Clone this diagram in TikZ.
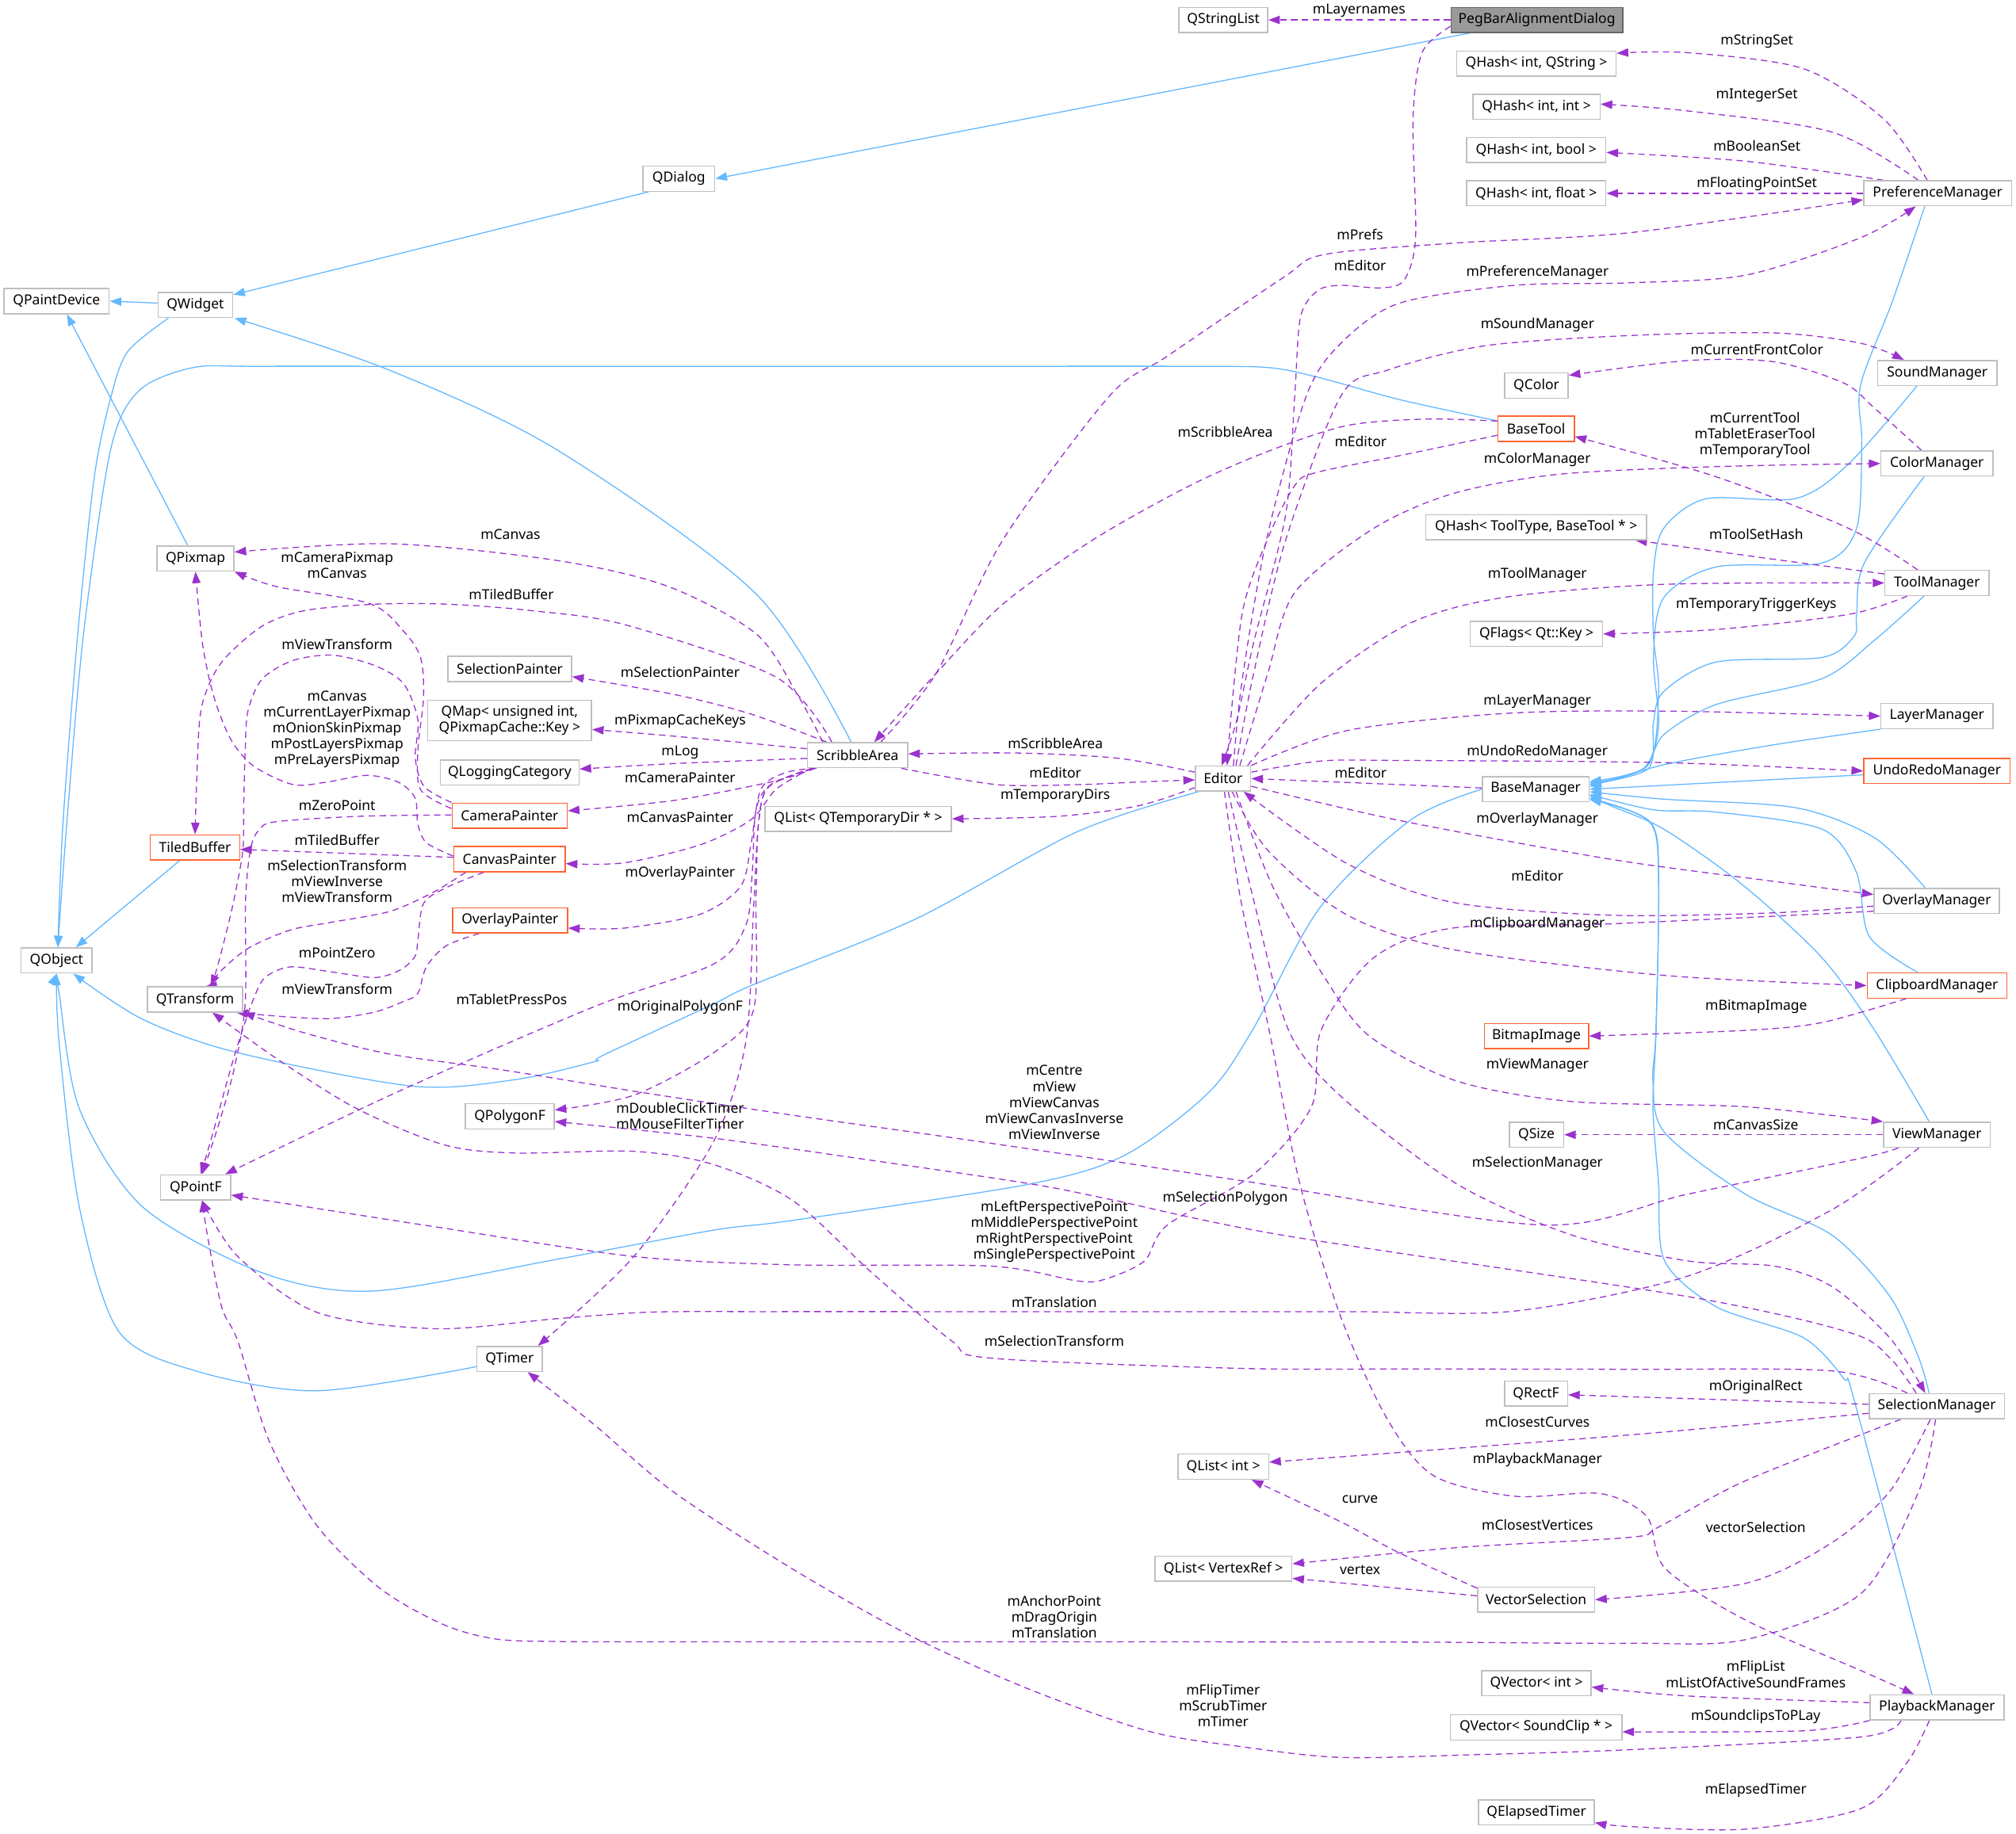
\documentclass[tikz,border=0pt]{standalone}
\usepackage{fontspec}
\setmainfont{Noto Sans}
\usetikzlibrary{arrows.meta,backgrounds}
\definecolor{inhblue}{RGB}{99,184,255}
\definecolor{usepurple}{RGB}{154,50,205}
\definecolor{boxgray}{RGB}{191,191,191}
\definecolor{orangeb}{RGB}{255,100,50}
\definecolor{pegfill}{RGB}{153,153,153}
\definecolor{pegdraw}{RGB}{102,102,102}
\newcommand\fsz{\fontsize{10.8}{12.4}\selectfont}
\begin{document}
\begin{tikzpicture}[x=1pt,y=-1pt,
  nbox/.style={draw=boxgray, fill=white, line width=0.9pt, inner sep=0pt, minimum height=19.5pt, font=\fsz, align=center},
  obox/.style={nbox, draw=orangeb},
  pbox/.style={nbox, draw=pegdraw, fill=pegfill},
  iedge/.style={draw=inhblue, line width=0.8pt, -{Triangle[length=9pt,width=6.5pt]}},
  uedge/.style={draw=usepurple, line width=0.8pt, dash pattern=on 5pt off 3.5pt, -{Triangle[length=9pt,width=6.5pt]}},
  lbl/.style={font=\fsz, inner sep=0pt, align=center}]
\useasboundingbox (0,0) rectangle (1568,1426.2);
% nodes
\node[pbox,minimum width=133.5pt] (PegBar) at (1195.3,15.5) {PegBarAlignmentDialog};
\node[nbox,minimum width=69pt] (QStringList) at (951.5,15.5) {QStringList};
\node[nbox,minimum width=124pt] (QHashStr) at (1195,49.4) {QHash< int, QString >};
\node[nbox,minimum width=99pt] (QHashInt) at (1195,83) {QHash< int, int >};
\node[nbox,minimum width=108.4pt] (QHashBool) at (1194.8,116.6) {QHash< int, bool >};
\node[nbox,minimum width=108.4pt] (QHashFloat) at (1194.8,150.4) {QHash< int, float >};
\node[nbox,minimum width=115pt] (PrefMgr) at (1507,150.4) {PreferenceManager};
\node[nbox,minimum width=56pt] (QDialog) at (528,139) {QDialog};
\node[nbox,minimum width=81.8pt] (QPaintDevice) at (44,234.3) {QPaintDevice};
\node[nbox,minimum width=58pt] (QWidget) at (152,237.3) {QWidget};
\node[nbox,minimum width=93pt] (SoundMgr) at (1506.8,290.2) {SoundManager};
\node[nbox,minimum width=49.4pt] (QColor) at (1195,300) {QColor};
\node[obox,minimum width=59.4pt] (BaseTool) at (1194.7,333.6) {BaseTool};
\node[nbox,minimum width=87pt] (ColorMgr) at (1506.5,360.6) {ColorManager};
\node[nbox,minimum width=171.5pt] (QHashTool) at (1194.8,410.1) {QHash< ToolType, BaseTool * >};
\node[nbox,minimum width=81pt] (ToolMgr) at (1506.5,453.5) {ToolManager};
\node[nbox,minimum width=103pt] (QFlags) at (1195,493.2) {QFlags< Qt::Key >};
\node[nbox,minimum width=87pt] (LayerMgr) at (1506.5,557.1) {LayerManager};
\node[obox,minimum width=114pt] (UndoRedo) at (1506.5,599.8) {UndoRedoManager};
\node[nbox,minimum width=43pt] (Editor) at (951.3,605.7) {Editor};
\node[nbox,minimum width=83pt] (BaseMgr) at (1194.4,614) {BaseManager};
\node[nbox,minimum width=78pt] (ScribbleArea) at (667,587.5) {ScribbleArea};
\node[nbox,minimum width=145pt] (QListTemp) at (667.5,637) {QList< QTemporaryDir * >};
\node[nbox,minimum width=96pt] (SelectionPainter) at (396.5,520.4) {SelectionPainter};
\node[nbox,minimum width=127.3pt,minimum height=31.4pt] (QMap) at (396.4,560.5) {QMap< unsigned int,\\ QPixmapCache::Key >};
\node[nbox,minimum width=107.8pt] (QLogging) at (396.4,601.1) {QLoggingCategory};
\node[obox,minimum width=89.6pt] (CameraPainter) at (396.4,634.5) {CameraPainter};
\node[obox,minimum width=69.4pt] (TiledBuffer) at (151.7,659.3) {TiledBuffer};
\node[obox,minimum width=86.6pt] (CanvasPainter) at (396.3,668.4) {CanvasPainter};
\node[obox,minimum width=89.5pt] (OverlayPainter) at (396.7,716) {OverlayPainter};
\node[nbox,minimum width=60pt] (QPixmap) at (152,434.5) {QPixmap};
\node[nbox,minimum width=55pt] (QObject) at (44,747.2) {QObject};
\node[nbox,minimum width=74pt] (QTransform) at (151.7,777.5) {QTransform};
\node[nbox,minimum width=69pt] (QPolygonF) at (396.5,868.5) {QPolygonF};
\node[nbox,minimum width=54.4pt] (QPointF) at (152.2,923.7) {QPointF};
\node[nbox,minimum width=50.8pt] (QTimer) at (396.4,1057.2) {QTimer};
\node[nbox,minimum width=97.4pt] (OverlayMgr) at (1506.3,700.9) {OverlayManager};
\node[obox,minimum width=108.7pt] (ClipboardMgr) at (1506.6,766.7) {ClipboardManager};
\node[obox,minimum width=81pt] (BitmapImage) at (1195,806) {BitmapImage};
\node[nbox,minimum width=83pt] (ViewMgr) at (1506.5,882.8) {ViewManager};
\node[nbox,minimum width=42.2pt] (QSize) at (1195,882.8) {QSize};
\node[nbox,minimum width=105pt] (SelectionMgr) at (1506.4,1094) {SelectionManager};
\node[nbox,minimum width=49pt] (QRectF) at (1194.7,1084.1) {QRectF};
\node[nbox,minimum width=70.5pt] (QListInt) at (951.5,1141) {QList< int >};
\node[nbox,minimum width=106.5pt] (QListVertex) at (951.5,1220.4) {QList< VertexRef >};
\node[nbox,minimum width=91pt] (VectorSelection) at (1194.7,1244.5) {VectorSelection};
\node[nbox,minimum width=104pt] (PlaybackMgr) at (1506.6,1328.2) {PlaybackManager};
\node[nbox,minimum width=85pt] (QVectorInt) at (1195,1309.5) {QVector< int >};
\node[nbox,minimum width=133.4pt] (QVectorSound) at (1194.7,1343.8) {QVector< SoundClip * >};
\node[nbox,minimum width=90pt] (QElapsedTimer) at (1195,1409.9) {QElapsedTimer};
% labels
\node[lbl] (l1) at (1057,8) {mLayernames};
\node[lbl] (l2) at (1057.8,206.5) {mEditor};
\node[lbl] (l3) at (1366.5,31.9) {mStringSet};
\node[lbl] (l4) at (1366.5,74) {mIntegerSet};
\node[lbl] (l5) at (1366.5,113.6) {mBooleanSet};
\node[lbl] (l6) at (1366.5,143.2) {mFloatingPointSet};
\node[lbl] (l7) at (1057.8,182.5) {mPrefs};
\node[lbl] (l8) at (1195.8,212) {mPreferenceManager};
\node[lbl] (l9) at (1195.8,253) {mSoundManager};
\node[lbl] (l10) at (1366.5,272) {mCurrentFrontColor};
\node[lbl] (l11) at (953,336) {mScribbleArea};
\node[lbl] (l12) at (1058.3,343.3) {mEditor};
\node[lbl] (l13) at (1195.7,357.7) {mColorManager};
\node[lbl] (l14) at (1365,338.7) {mCurrentTool\\mTabletEraserTool\\mTemporaryTool};
\node[lbl] (l15) at (1366,415.5) {mToolSetHash};
\node[lbl] (l16) at (1195.7,447.3) {mToolManager};
\node[lbl] (l17) at (1366,470.3) {mTemporaryTriggerKeys};
\node[lbl] (l18) at (1195.7,546) {mLayerManager};
\node[lbl] (l19) at (1195.7,585) {mUndoRedoManager};
\node[lbl] (l20) at (1058.3,601) {mEditor};
\node[lbl] (l21) at (1195.7,637.5) {mOverlayManager};
\node[lbl] (l22) at (1195.7,681) {mEditor};
\node[lbl] (l23) at (1195.7,718.6) {mClipboardManager};
\node[lbl] (l24) at (820,958.3) {mLeftPerspectivePoint\\mMiddlePerspectivePoint\\mRightPerspectivePoint\\mSinglePerspectivePoint};
\node[lbl] (l25) at (1366,783.2) {mBitmapImage};
\node[lbl] (l26) at (1195.8,828.7) {mViewManager};
\node[lbl] (l27) at (1365.6,875.3) {mCanvasSize};
\node[lbl] (l28) at (1195.8,905) {mSelectionManager};
\node[lbl] (l29) at (1195.8,1136) {mPlaybackManager};
\node[lbl] (l30) at (1365.6,1079) {mOriginalRect};
\node[lbl] (l31) at (1195.8,1106.3) {mClosestCurves};
\node[lbl] (l32) at (1195.8,1186) {mClosestVertices};
\node[lbl] (l33) at (1365.6,1188.3) {vectorSelection};
\node[lbl] (l34) at (1057.8,1166.4) {curve};
\node[lbl] (l35) at (1057.8,1221.4) {vertex};
\node[lbl] (l36) at (820,1257.8) {mAnchorPoint\\mDragOrigin\\mTranslation};
\node[lbl] (l37) at (820,1043.2) {mSelectionTransform};
\node[lbl] (l38) at (953,932.2) {mSelectionPolygon};
\node[lbl] (l39) at (820,857.6) {mCentre\\mView\\mViewCanvas\\mViewCanvasInverse\\mViewInverse};
\node[lbl] (l40) at (820,1013.3) {mTranslation};
\node[lbl] (l41) at (1365.6,1302.5) {mFlipList\\mListOfActiveSoundFrames};
\node[lbl] (l42) at (1365.6,1335.3) {mSoundclipsToPLay};
\node[lbl] (l43) at (1365.6,1393) {mElapsedTimer};
\node[lbl] (l44) at (951.3,1326.8) {mFlipTimer\\mScrubTimer\\mTimer};
\node[lbl] (l45) at (820.8,601.2) {mEditor};
\node[lbl] (l46) at (820.8,578.6) {mScribbleArea};
\node[lbl] (l47) at (820.8,619) {mTemporaryDirs};
\node[lbl] (l48) at (529,522.8) {mSelectionPainter};
\node[lbl] (l49) at (529,561) {mPixmapCacheKeys};
\node[lbl] (l50) at (529,585.1) {mLog};
\node[lbl] (l51) at (529,604.8) {mCameraPainter};
\node[lbl] (l52) at (529,635.5) {mCanvasPainter};
\node[lbl] (l53) at (529,679.5) {mOverlayPainter};
\node[lbl] (l54) at (398,777.2) {mTabletPressPos};
\node[lbl] (l55) at (529,783.7) {mOriginalPolygonF};
\node[lbl] (l56) at (529,867.9) {mDoubleClickTimer\\mMouseFilterTimer};
\node[lbl] (l57) at (397,416) {mCanvas};
\node[lbl] (l58) at (397.7,462.5) {mTiledBuffer};
\node[lbl] (l59) at (262.2,439.5) {mCameraPixmap\\mCanvas};
\node[lbl] (l60) at (262.2,567.3) {mCanvas\\mCurrentLayerPixmap\\mOnionSkinPixmap\\mPostLayersPixmap\\mPreLayersPixmap};
\node[lbl] (l61) at (262.2,501.5) {mViewTransform};
\node[lbl] (l62) at (262.2,626.3) {mZeroPoint};
\node[lbl] (l63) at (262.2,653.6) {mTiledBuffer};
\node[lbl] (l64) at (262.2,685.4) {mSelectionTransform\\mViewInverse\\mViewTransform};
\node[lbl] (l65) at (262.2,741.3) {mPointZero};
\node[lbl] (l66) at (262.2,769.7) {mViewTransform};
\begin{scope}[on background layer]
\fill[white] (0,0) rectangle (1568,1426.2);
% ---------- inheritance ----------
\draw[iedge] ([xshift=-52pt]PegBar.south) -- (QDialog.east);
\draw[iedge] ([xshift=5pt]QDialog.south west) -- ([yshift=8pt]QWidget.east);
\draw[iedge] ([yshift=1.5pt]QWidget.west) -- (QPaintDevice.east);
\draw[iedge] plot[smooth] coordinates {([xshift=-21pt]QWidget.south) (99.5,273.3) (86.5,308) (73.5,370) (60.5,493) (49,640) ([xshift=1pt]QObject.north)};
\draw[iedge] plot[smooth] coordinates {([yshift=-4pt]BaseTool.north west) (1089,311) (1027,294) (987,286) (925,285) (750,285) (550,285) (350,285) (200,285) (150,286) (108,304) (86,350) (65,493) (52,640) ([xshift=1pt]QObject.north)};
\draw[iedge] ([xshift=-6pt]QPixmap.north) -- ([xshift=8pt]QPaintDevice.south);
\draw[iedge] plot[smooth] coordinates {([xshift=-5pt]ScribbleArea.north) (588,462) (432.6,349.6) (303,288) ([xshift=1pt]QWidget.south east)};
\draw[iedge] ([xshift=-12pt]TiledBuffer.south) -- ([xshift=15pt]QObject.north);
\draw[iedge] plot[smooth] coordinates {([xshift=-19pt]Editor.south) (838,647) (712,715) (586,766) (555,781) (469,821) (462,826) (400,840) (321,845) (185,819) (111,793) ([xshift=13pt]QObject.south)};
\draw[iedge] plot[smooth] coordinates {(BaseMgr.west) (1097,638) (1027,705.5) (974,801.6) (940,850) (875.6,898.3) (801.6,921) (616.6,949.4) (555,957) (431.6,980) (289.8,1004.4) (203.5,990) (111,939) (61.7,862.5) (46,773) (QObject.south)};
\draw[iedge] plot[smooth] coordinates {([yshift=-6pt]QTimer.west) (246.6,1082) (154,1067) (92.5,1036) (61.7,939) (46,811.6) (QObject.south)};
\draw[iedge] plot[smooth] coordinates {([xshift=-10pt]PrefMgr.south) (1472,234) (1447,300) (1448,344) (1444,411) (1417,438) (1335,441) (1294,465) (1286,511) (1290,565) (1278,598) ([yshift=6pt]BaseMgr.east)};
\draw[iedge] plot[smooth] coordinates {([xshift=-16pt]SoundMgr.south) (1437.7,361) (1396.7,387.8) (1327,388) (1294,411) (1286,444.6) (1286,494.7) (1290,538) (1282,595) ([yshift=5pt]BaseMgr.east)};
\draw[iedge] plot[smooth] coordinates {([xshift=-10pt]ColorMgr.south) (1450,438) (1444,478) (1442,495) (1417,511.5) (1335,515) (1294,538) (1286,561.6) (1282,598) ([yshift=4pt]BaseMgr.east)};
\draw[iedge] plot[smooth] coordinates {([xshift=-10pt]ToolMgr.south) (1458,498) (1417,528) (1335,548) (1294,571.6) (1278,598.4) ([yshift=3pt]BaseMgr.east)};
\draw[iedge] plot[smooth] coordinates {(LayerMgr.south west) (1376,580) (1294,595) ([yshift=2pt]BaseMgr.east)};
\draw[iedge] ([yshift=-3pt]UndoRedo.west) -- (BaseMgr.east);
\draw[iedge] plot[smooth] coordinates {([xshift=-9pt]OverlayMgr.north) (1458,651.8) (1396.7,628.4) (1294,621.7) ([yshift=-2pt]BaseMgr.east)};
\draw[iedge] plot[smooth] coordinates {([xshift=-15pt]ClipboardMgr.north) (1454,728.7) (1443.8,678.5) (1417,645) (1335,631.8) (1286,630) ([yshift=-4pt]BaseMgr.east)};
\draw[iedge] plot[smooth] coordinates {([xshift=-6pt]ViewMgr.north) (1458,801.5) (1417,745) (1355.6,688.6) (1294,645) (1253,627) ([yshift=-5pt]BaseMgr.east)};
\draw[iedge] plot[smooth] coordinates {([xshift=-6pt]SelectionMgr.north) (1492.4,1056.5) (1470,1008.7) (1425,961) (1357.5,929) (1294.6,881) (1285.6,841.4) (1288,801.6) (1290,678.5) (1282,638.4) ([yshift=-7pt]BaseMgr.east)};
\draw[iedge] plot[smooth] coordinates {([xshift=-4pt]PlaybackMgr.north) (1443,1092.4) (1434,1072.4) (1402.5,1040.6) (1335,1016.7) (1294.6,980.8) (1290,921) (1285.6,861.4) (1288,801.6) (1290,690) (1284,640) ([yshift=-8pt]BaseMgr.east)};
% ---------- usage ----------
\draw[uedge] (PegBar.west) -- (QStringList.east);
\draw[uedge] plot[smooth] coordinates {([yshift=-5pt]PegBar.west) (1106,41) (1099,92.5) (1101,185) (1092,218) (1074,224) (1043,222) (1025,226) (1011.5,246.6) (1007,308) (1000,400) (975,500) (962,560) ([xshift=-1pt]Editor.north)};
\draw[uedge] plot[smooth] coordinates {([xshift=-8pt]PrefMgr.north) (1465,92.5) (1402.5,53.4) (1312.6,41) ([yshift=8pt]QHashStr.east)};
\draw[uedge] plot[smooth] coordinates {([xshift=-15pt]PrefMgr.north) (1425,102.8) (1312.6,86.3) ([yshift=2pt]QHashInt.east)};
\draw[uedge] plot[smooth] coordinates {([xshift=-42pt]PrefMgr.north) (1357.6,125.4) ([yshift=-2pt]QHashBool.east)};
\draw[uedge] (PrefMgr.west) -- (QHashFloat.east);
\draw[uedge] plot[smooth] coordinates {([xshift=18pt]ScribbleArea.north) (728,524) (780,420) (863,308) (908,277) (998,216) (1030,198) (1133,189) (1268,181) ([yshift=-5pt]PrefMgr.west)};
\draw[uedge] plot[smooth] coordinates {([xshift=8pt]Editor.north) (966,530) (985,420) (1016,308) (1043,267) (1088,236) (1178,222) (1268,220) (1358,214) (1447,185) ([xshift=-17pt]PrefMgr.south)};
\draw[uedge] plot[smooth] coordinates {([xshift=10pt]Editor.north) (975,524) (1000,420) (1043,308) (1079,288) (1155,269) (1268,261) (1380,259) (1447,267) ([xshift=-26pt]SoundMgr.north)};
\draw[uedge] plot[smooth] coordinates {([xshift=-12pt]ColorMgr.north) (1458,317.6) (1434,298) (1380,281.5) (1312.6,280.5) ([yshift=8pt]QColor.east)};
\draw[uedge] plot[smooth] coordinates {([yshift=6pt]BaseTool.west) (1109.6,326) (1048,331) (986.5,351) (925,378) (850,420) (780,470) (728,524) ([xshift=13pt]ScribbleArea.north)};
\draw[uedge] plot[smooth] coordinates {([yshift=-5pt]BaseTool.west) (1089,354.4) (1023.4,367.7) (1007,377.8) (986.5,418) (966,478) ([xshift=3pt]Editor.north)};
\draw[uedge] plot[smooth] coordinates {([xshift=13pt]Editor.north) (986,524) (1007,461) (1068.5,411) (1130,384) (1212,369) (1335,363) (ColorMgr.west)};
\draw[uedge] plot[smooth] coordinates {([xshift=-15pt]ToolMgr.north) (1437.7,411) (1335,371) ([yshift=-6pt]BaseTool.east)};
\draw[uedge] plot[smooth] coordinates {([yshift=7pt]ToolMgr.west) (1376,434.6) ([xshift=-9pt]QHashTool.south east)};
\draw[uedge] plot[smooth] coordinates {([xshift=19pt]Editor.north) (1027.5,531.5) (1097,484.7) (1171,464.6) (1294,454.6) (ToolMgr.west)};
\draw[uedge] plot[smooth] coordinates {([xshift=-23pt]ToolMgr.south) (1437.7,478) (1335,489.7) (QFlags.east)};
\draw[uedge] plot[smooth] coordinates {(Editor.north east) (1048,568.3) (1171,555) (1294,553.2) (LayerMgr.west)};
\draw[uedge] plot[smooth] coordinates {([yshift=5pt]Editor.east) (1028,592) (1089,591.6) (1294,593.3) (UndoRedo.west)};
\draw[uedge] ([yshift=1pt]BaseMgr.west) -- (Editor.east);
\draw[uedge] plot[smooth] coordinates {([yshift=-6pt]Editor.east) (1089,638.4) (1253,668.5) (1376,685.2) ([yshift=5pt]OverlayMgr.west)};
\draw[uedge] plot[smooth] coordinates {([yshift=-4pt]OverlayMgr.west) (1376,710.3) (1253,712) (1130,702) (1048,672) ([xshift=-6pt]Editor.south east)};
\draw[uedge] plot[smooth] coordinates {([xshift=7pt]Editor.south) (986.5,662) (1048,712) (1130,738.7) (1294,758.8) (ClipboardMgr.west)};
\draw[uedge] plot[smooth] coordinates {([yshift=-8pt]OverlayMgr.west) (1253,718.7) (1130,722) (1068.5,745) (1027.5,801.5) (1020,861) (975.6,913) (908,953) (890,981) (860,995) (838.6,996.6) (770.8,985) (616.6,984) (493,977.5) (339,954.5) ([yshift=-6pt]QPointF.east)};
\draw[uedge] plot[smooth] coordinates {([xshift=-24pt]ClipboardMgr.south) (1417,795.5) (1357.5,801.6) (BitmapImage.east)};
\draw[uedge] plot[smooth] coordinates {([xshift=10pt]Editor.south) (990,690) (1030,760) (1065,806) (1133,841) (1223,857) (1357,861) (ViewMgr.north west)};
\draw[uedge] (ViewMgr.west) -- (QSize.east);
\draw[uedge] plot[smooth] coordinates {([xshift=4pt]Editor.south) (975,700) (1002,801) (1043,853) (1133,921) (1223,961) (1313,981) (1380,985) (1425,1001) (1470,1041) ([xshift=-9pt]SelectionMgr.north)};
\draw[uedge] plot[smooth] coordinates {([xshift=1pt]Editor.south) (965,700) (987,801) (1011,921) (1043,1025) (1079,1104) (1115,1148) (1178,1164) (1245,1162) (1281,1180) (1295,1220) (1357,1260) (1447,1299.5) ([xshift=-18pt]PlaybackMgr.north)};
\draw[uedge] ([yshift=1.5pt]SelectionMgr.west) -- ([yshift=-1pt]QRectF.east);
\draw[uedge] plot[smooth] coordinates {([yshift=-5.5pt]SelectionMgr.west) (1267.7,1116.3) ([yshift=3.5pt]QListInt.east)};
\draw[uedge] plot[smooth] coordinates {([xshift=-28pt]SelectionMgr.south) (1357.5,1152) (1290,1188) (1267.7,1196) (1132.8,1204) ([yshift=3.8pt]QListVertex.east)};
\draw[uedge] plot[smooth] coordinates {([xshift=-5pt]SelectionMgr.south) (1470,1160) (1425,1200) (1357.5,1231.8) (VectorSelection.east)};
\draw[uedge] plot[smooth] coordinates {([yshift=9pt]VectorSelection.west) (1088,1207.9) (1043,1184) ([xshift=22pt]QListInt.south)};
\draw[uedge] plot[smooth] coordinates {([yshift=3pt]VectorSelection.west) (1088,1235.7) ([yshift=-7.5pt]QListVertex.east)};
\draw[uedge] plot[smooth] coordinates {([xshift=-1pt]SelectionMgr.south) (1492.4,1160) (1447.4,1239.7) (1357.5,1275.6) (1267.7,1278.4) (1100,1277.5) (900,1277.3) (700,1277.3) (520,1277.3) (430,1277) (385,1275) (345.3,1264) (296,1236) (246.6,1187) (209.6,1121.7) (185,1043.5) (172.6,1017.4) (162,965) ([xshift=5pt]QPointF.south)};
\draw[uedge] plot[smooth] coordinates {([xshift=-23pt]SelectionMgr.north) (1425,1066.5) (1267.7,1065.3) (1100,1065) (966.8,1064.6) (770.8,1056.6) (740,1043) (678,990) (616.6,934) (555,906) (493,895.7) (400.8,897) (345.3,890.6) (277.5,862.5) (215.8,824) ([xshift=13.5pt]QTransform.south)};
\draw[uedge] plot[smooth] coordinates {([xshift=-16pt]SelectionMgr.north) (1470,1056.5) (1438.4,1036.6) (1312.6,1008.7) (998,961) (863,933) (801.6,921) (680,903) (555,885.5) ([yshift=-4pt]QPolygonF.east)};
\draw[uedge] plot[smooth] coordinates {([xshift=-30pt]ViewMgr.south) (1447.4,901) (1312.6,929) (1200,953) (966.8,918.7) (863,903) (740,885) (616.6,867.6) (500,850) (391,832.4) (303,820) (237,803.6) (QTransform.south east)};
\draw[uedge] plot[smooth] coordinates {([xshift=-14pt]ViewMgr.south) (1425,941) (1312.6,992.8) (1177.8,1020) (1050,1020.4) (900,1020.4) (750,1020.4) (600,1020.4) (505.6,1020.8) (431.6,1026) (339,1033.7) (246.6,1021) (185,977.5) ([xshift=5pt]QPointF.south)};
\draw[uedge] plot[smooth] coordinates {([yshift=3.6pt]PlaybackMgr.west) (1312.6,1319.4) ([yshift=-3pt]QVectorInt.east)};
\draw[uedge] plot[smooth] coordinates {(PlaybackMgr.south west) (1402.5,1346.5) ([yshift=-3.5pt]QVectorSound.east)};
\draw[uedge] plot[smooth] coordinates {([xshift=-6pt]PlaybackMgr.south) (1483.4,1371) (1447.4,1407) (1357.5,1423) (1267.7,1421) ([yshift=-8pt]QElapsedTimer.east)};
\draw[uedge] plot[smooth] coordinates {([xshift=-28pt]PlaybackMgr.south) (1447.4,1351.3) (1267.7,1361.2) (1150,1365) (1043,1367.2) (966.8,1359) (894,1347) (801.6,1314.6) (709,1273) (616.6,1220.7) (524,1160.8) (462.5,1108.6) ([xshift=14pt]QTimer.south)};
% ScribbleArea related
\draw[uedge] plot[smooth] coordinates {([xshift=34pt]ScribbleArea.south) (775.2,610.4) (838,610.4) (885.3,608.4) ([yshift=-1pt]Editor.west)};
\draw[uedge] plot[smooth] coordinates {([yshift=5pt]Editor.west) (869.6,589.9) (791,585.8) ([yshift=1pt]ScribbleArea.east)};
\draw[uedge] plot[smooth] coordinates {([yshift=-7pt]Editor.west) (885.3,626.9) (822.4,635.1) (QListTemp.east)};
\draw[uedge] plot[smooth] coordinates {([xshift=-24pt]ScribbleArea.north) (584,555.5) (525,540.4) ([yshift=-6pt]SelectionPainter.east)};
\draw[uedge] plot[smooth] coordinates {([yshift=5pt]ScribbleArea.west) (525,572.8) ([yshift=-7pt]QMap.east)};
\draw[uedge] plot[smooth] coordinates {([yshift=-2.5pt]ScribbleArea.west) (525,594) ([yshift=2.8pt]QLogging.east)};
\draw[uedge] plot[smooth] coordinates {([xshift=-33pt]ScribbleArea.south) (603.7,607.4) (525,622.6) ([yshift=3.7pt]CameraPainter.east)};
\draw[uedge] plot[smooth] coordinates {([xshift=-36pt]ScribbleArea.south) (603.7,613.9) (584,637.7) (544.7,657.2) (485.7,671.2) ([yshift=-3.5pt]CanvasPainter.east)};
\draw[uedge] plot[smooth] coordinates {([xshift=-32pt]ScribbleArea.south) (611.5,600.9) (591.9,613.9) (584,657.2) (576,689.6) (544.7,711.2) (485.7,722) ([yshift=-6pt]OverlayPainter.east)};
\draw[uedge] plot[smooth] coordinates {([xshift=-34pt]ScribbleArea.south) (600,610) (588,630) (585,680) (580,720) (555,750) (462.5,783) (308,850) ([xshift=23pt]QPointF.north)};
\draw[uedge] plot[smooth] coordinates {([xshift=-35pt]ScribbleArea.south) (598,612) (590,640) (588,700) (586,786) (555,819) (493,852) ([yshift=5pt]QPolygonF.east)};
\draw[uedge] plot[smooth] coordinates {([xshift=-35pt]ScribbleArea.south) (598,612) (590,640) (586,709) (580,811) (555,888) (493,977.5) ([xshift=22pt]QTimer.north)};
\draw[uedge] plot[smooth] coordinates {([xshift=-27pt]ScribbleArea.north) (620,540) (588,493) (519,456) (433,436) (303,423) ([yshift=5pt]QPixmap.east)};
\draw[uedge] plot[smooth] coordinates {([xshift=-20pt]ScribbleArea.north) (604,527) (486,486) (413,475) (347,470) (292,470) (237,475) (204,487) (175,512) (162,534) (155,563) (TiledBuffer.north)};
% painters
\draw[uedge] plot[smooth] coordinates {([yshift=5.5pt]CameraPainter.west) (327.2,614.5) (325,583.7) (329.4,542.6) (327.2,511.8) (314,491.2) (287.6,469.6) (214.9,456.3) (QPixmap.south east)};
\draw[uedge] plot[smooth] coordinates {([yshift=2.4pt]CanvasPainter.west) (331.6,655.6) (325,641.2) (322.8,620.7) (309.6,608.4) (285.4,603.2) (254.5,608.4) (228,610.4) (197.3,596) (179.7,575.5) (166.5,542.6) (157.6,501.5) (QPixmap.south)};
\draw[uedge] plot[smooth] coordinates {(CameraPainter.north west) (330,612) (323,590) (325,560) (314,532) (292,518) (259,509.7) (228,513.8) (203.9,528.2) (192.9,552.9) (190.7,583.7) (189.6,624.8) (189,660) (184,690) (177.5,719.4) (166.5,760.5) ([xshift=8pt]QTransform.north)};
\draw[uedge] plot[smooth] coordinates {([yshift=0.5pt]CameraPainter.west) (281,635) (215,639.2) (201.7,645.4) (195,660) (191,700) (190.7,781) (181.9,832.4) (170,875) ([xshift=5pt]QPointF.north)};
\draw[uedge] ([yshift=1.4pt]CanvasPainter.west) -- ([yshift=-1.5pt]TiledBuffer.east);
\draw[uedge] plot[smooth] coordinates {([xshift=-34pt]CanvasPainter.south) (336,694.7) (303,709.1) (259,717.3) (225.9,723.5) (192.9,737.8) (170.9,756.3) ([xshift=12pt]QTransform.north)};
\draw[uedge] plot[smooth] coordinates {([xshift=-20pt]CanvasPainter.south) (347,690.6) (329.4,702.9) (325,731.7) (322.8,744) (311.8,754.3) (292,760.5) (259,756.3) (225.9,752.2) (206.1,760.5) (197.3,776.9) (188.5,801.6) (179.7,830.3) (166,880) ([xshift=4pt]QPointF.north)};
\draw[uedge] plot[smooth] coordinates {([xshift=-24pt]OverlayPainter.south) (347,735.8) (331.6,752.2) (325,772.8) (314,779) (292,787.2) (259,792.3) (225.9,791.3) ([xshift=32pt]QTransform.south)};
\end{scope}
\end{tikzpicture}
\end{document}
